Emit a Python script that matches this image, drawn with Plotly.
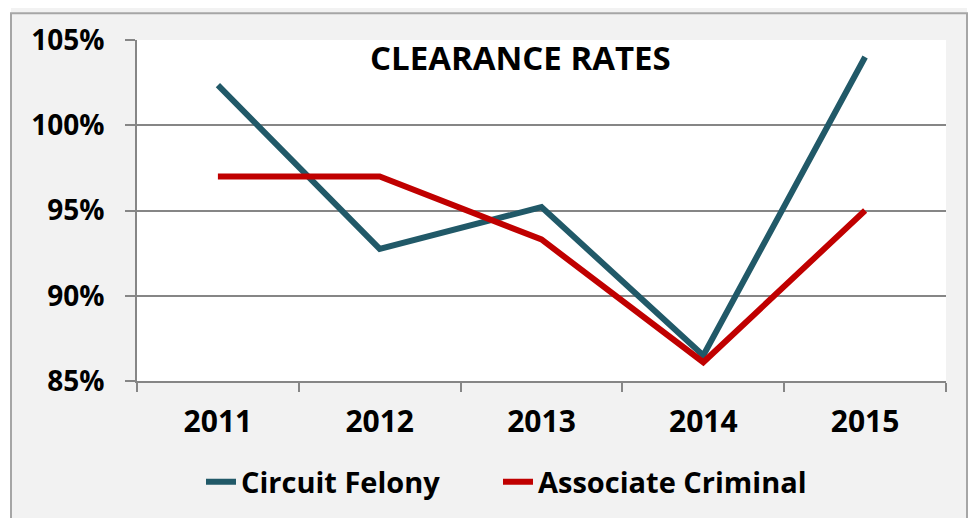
import plotly.graph_objects as go

years = ["2011", "2012", "2013", "2014", "2015"]
circuit_felony = [102.35, 92.75, 95.2, 86.5, 104.0]
associate_criminal = [97.0, 97.0, 93.3, 86.1, 95.0]
y_ticks = [85, 90, 95, 100, 105]
y_tick_labels = ["85%", "90%", "95%", "100%", "105%"]

# the page body has an 8px margin; figure coordinates = page coordinates - 8
OFF = 8
W, H = 976 - OFF, 518
L, T = 137 - OFF, 36 - OFF
R = W - (946 - OFF)
B = H - (381 - OFF)
pw, ph = W - L - R, H - T - B

def px(x):
    return (x - OFF - L) / pw

def py(y):
    return (H - B - (y - OFF)) / ph

font_family = "Open Sans"

fig = go.Figure()
fig.add_trace(go.Scatter(x=years, y=circuit_felony, mode="lines", name="<b>Circuit Felony</b>",
                         line=dict(color="#215968", width=6), legend="legend"))
fig.add_trace(go.Scatter(x=years, y=associate_criminal, mode="lines", name="<b>Associate Criminal</b>",
                         line=dict(color="#c00000", width=6), legend="legend2"))

shapes = [
    dict(type="rect", xref="paper", yref="paper", x0=px(-10), x1=px(11), y0=py(700), y1=py(-10),
         fillcolor="white", line=dict(width=0)),
    dict(type="rect", xref="paper", yref="paper", x0=px(967), x1=px(1000), y0=py(700), y1=py(-10),
         fillcolor="white", line=dict(width=0)),
    dict(type="rect", xref="paper", yref="paper", x0=px(11), x1=px(967), y0=py(560), y1=py(9),
         line=dict(color="#a6a6a6", width=2), fillcolor="rgba(0,0,0,0)"),
]

legend_font = dict(family=font_family, size=29, color="black")

fig.update_layout(
    width=W, height=H,
    margin=dict(l=L, r=R, t=T, b=B),
    paper_bgcolor="#f2f2f2",
    plot_bgcolor="white",
    showlegend=True,
    legend=dict(orientation="h", x=px(201), y=py(483), yanchor="middle", xanchor="left",
                font=legend_font, bgcolor="rgba(0,0,0,0)"),
    legend2=dict(orientation="h", x=px(498), y=py(483), yanchor="middle", xanchor="left",
                 font=legend_font, bgcolor="rgba(0,0,0,0)"),
    shapes=shapes,
    annotations=[dict(text="<b>CLEARANCE RATES</b>", xref="paper", yref="paper",
                      x=px(520), y=py(54), showarrow=False, xanchor="center", yanchor="middle",
                      font=dict(family=font_family, size=33, color="black"))],
    xaxis=dict(
        type="category", range=[-0.5, 4.5], tickson="boundaries", ticks="outside", ticklen=9,
        tickcolor="#868686", tickwidth=2, showline=True, linecolor="#868686", linewidth=2,
        showgrid=False, tickfont=dict(family=font_family, size=30, color="black"),
        tickprefix="<b>", ticksuffix="</b>", ticklabelstandoff=13,
    ),
    yaxis=dict(
        range=[85, 105], tickvals=y_ticks, ticktext=["<b>%s</b>" % t for t in y_tick_labels],
        ticks="outside", ticklen=10, tickcolor="#868686", tickwidth=2,
        showline=True, linecolor="#868686", linewidth=2,
        showgrid=True, gridcolor="#868686", gridwidth=1.5, zeroline=False,
        tickfont=dict(family=font_family, size=28, color="black"), ticklabelstandoff=15,
    ),
)

fig.write_html("out.html")
